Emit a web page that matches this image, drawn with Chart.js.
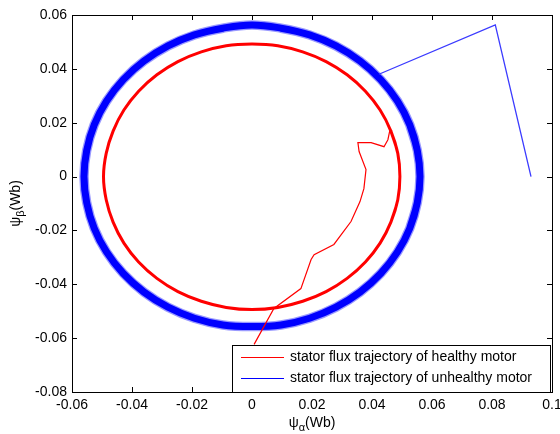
<!DOCTYPE html>
<html>
<head>
<meta charset="utf-8">
<script src="https://cdn.jsdelivr.net/npm/chart.js@4"></script>
<style>
  html, body { margin: 0; padding: 0; background: #fff; }
  #wrap { width: 560px; height: 434px; }
</style>
</head>
<body>
<div id="wrap"><canvas id="flux"></canvas></div>
<script>
// ---- data (psi_alpha, psi_beta in Wb) ----
const xTicks = [-0.06, -0.04, -0.02, 0, 0.02, 0.04, 0.06, 0.08, 0.1];
const xTickLabels = ['-0.06', '-0.04', '-0.02', '0', '0.02', '0.04', '0.06', '0.08', '0.1'];
const yTicks = [-0.08, -0.06, -0.04, -0.02, 0, 0.02, 0.04, 0.06];
const yTickLabels = ['-0.08', '-0.06', '-0.04', '-0.02', '0', '0.02', '0.04', '0.06'];

const seriesNames = ['stator flux trajectory of healthy motor', 'stator flux trajectory of unhealthy motor'];

// healthy motor: start-up transient, then steady circle (a little overlap at the seam)
const redPathX = [0.0007, 0.0073, 0.0163, 0.0197, 0.0207, 0.0273, 0.0330, 0.0360, 0.0373, 0.0380, 0.0357, 0.0353, 0.0397, 0.0440, 0.0453, 0.0460];
const redPathY = [-0.0623, -0.0490, -0.0416, -0.0308, -0.0290, -0.0252, -0.0167, -0.0093, -0.0045, 0.0026, 0.0093, 0.0126, 0.0126, 0.0111, 0.0137, 0.0174];
const redCircleX = [0.0463, 0.0486, 0.0493, 0.0486, 0.0463, 0.0427, 0.0378, 0.0317, 0.0247, 0.0169, 0.0086, 0, -0.0086, -0.0169, -0.0247, -0.0317, -0.0378, -0.0427, -0.0463, -0.0486, -0.0495,
  -0.0486, -0.0463, -0.0427, -0.0378, -0.0317, -0.0247, -0.0169, -0.0086, 0, 0.0086, 0.0169, 0.0247, 0.0317, 0.0378, 0.0427, 0.0463, 0.0486, 0.0493, 0.0486, 0.0463];
const redCircleY = [-0.0169, -0.0086, 0, 0.0086, 0.0169, 0.0247, 0.0317, 0.0378, 0.0427, 0.0463, 0.0486, 0.0492, 0.0486, 0.0463, 0.0427, 0.0378, 0.0317, 0.0247, 0.0169, 0.0086, 0,
  -0.0086, -0.0169, -0.0247, -0.0317, -0.0378, -0.0427, -0.0463, -0.0486, -0.0494, -0.0486, -0.0463, -0.0427, -0.0378, -0.0317, -0.0247, -0.0169, -0.0086, 0, 0.0086, 0.0169];

// unhealthy motor: start-up transient, then steady circle (a little overlap at the seam)
const bluePathX = [0.0930, 0.0811, 0.0423];
const bluePathY = [0, 0.0563, 0.0380];
const blueCircleX = [0.0526, 0.0551, 0.0560, 0.0551, 0.0526, 0.0485, 0.0429, 0.0360, 0.0280, 0.0192, 0.0097, 0, -0.0097, -0.0192, -0.0280, -0.0360, -0.0429, -0.0485, -0.0526, -0.0551, -0.0560,
  -0.0551, -0.0526, -0.0485, -0.0429, -0.0360, -0.0280, -0.0192, -0.0097, 0, 0.0097, 0.0192, 0.0280, 0.0360, 0.0429, 0.0485, 0.0526, 0.0551, 0.0560, 0.0551, 0.0526];
const blueCircleY = [-0.0192, -0.0097, 0, 0.0097, 0.0192, 0.0280, 0.0360, 0.0429, 0.0485, 0.0526, 0.0551, 0.0563, 0.0551, 0.0526, 0.0485, 0.0429, 0.0360, 0.0280, 0.0192, 0.0097, 0,
  -0.0097, -0.0192, -0.0280, -0.0360, -0.0429, -0.0485, -0.0526, -0.0551, -0.0557, -0.0551, -0.0526, -0.0485, -0.0429, -0.0360, -0.0280, -0.0192, -0.0097, 0, 0.0097, 0.0192];

const seriesColors = ['#ff0000', '#0000ff'];
const FONT = 'Arial, "Liberation Sans", sans-serif';

function pts(xs, ys) {
    return xs.map((x, i) => ({ x, y: ys[i] }));
}

function lineSet(data, color, width, tension) {
    return { data, borderColor: color, borderWidth: width, showLine: true, pointRadius: 0, tension: tension || 0, fill: false };
}

// =====================================================================
// FRAME, INWARD TICKS, AXIS TITLES AND LEGEND (matlab look)
// =====================================================================
const matlabFrame = {
    id: 'matlabFrame',
    afterDraw(chart) {
        const { ctx, chartArea: a, scales: { x, y } } = chart;
        ctx.save();
        ctx.strokeStyle = '#000';
        ctx.lineWidth = 1;

        // inward ticks on all four sides
        ctx.beginPath();
        xTicks.forEach(v => {
            const px = Math.round(x.getPixelForValue(v)) + 0.5;
            ctx.moveTo(px, a.bottom); ctx.lineTo(px, a.bottom - 5);
            ctx.moveTo(px, a.top); ctx.lineTo(px, a.top + 5);
        });
        yTicks.forEach(v => {
            const py = Math.round(y.getPixelForValue(v)) + 0.5;
            ctx.moveTo(a.left, py); ctx.lineTo(a.left + 5, py);
            ctx.moveTo(a.right, py); ctx.lineTo(a.right - 5, py);
        });
        ctx.stroke();
        ctx.strokeRect(Math.round(a.left) + 0.5, Math.round(a.top) + 0.5, Math.round(a.right - a.left), Math.round(a.bottom - a.top));

        // legend box in lower right corner
        const lx = 232, ly = 345, lw = 318, lh = 47;
        ctx.fillStyle = '#fff';
        ctx.fillRect(lx, ly, lw, lh);
        ctx.strokeRect(lx + 0.5, ly + 0.5, lw, lh);
        ctx.font = '14px ' + FONT;
        ctx.textBaseline = 'middle';
        seriesNames.forEach((name, i) => {
            const yy = ly + 12 + i * 21;
            ctx.strokeStyle = seriesColors[i];
            ctx.beginPath();
            ctx.moveTo(241, yy + 0.5); ctx.lineTo(284, yy + 0.5);
            ctx.stroke();
            ctx.fillStyle = '#000';
            ctx.fillText(name, 290, yy);
        });

        // axis titles with greek subscripts
        ctx.fillStyle = '#000';
        ctx.textBaseline = 'alphabetic';
        const drawTitle = (sub) => {
            ctx.font = '14px ' + FONT;
            const w1 = ctx.measureText('\u03c8').width;
            ctx.font = '11px ' + FONT;
            const w2 = ctx.measureText(sub).width;
            ctx.font = '14px ' + FONT;
            const w3 = ctx.measureText('(Wb)').width;
            let cx = -(w1 + w2 + w3) / 2;
            ctx.fillText('\u03c8', cx, 0); cx += w1;
            ctx.font = '11px ' + FONT;
            ctx.fillText(sub, cx, 4); cx += w2;
            ctx.font = '14px ' + FONT;
            ctx.fillText('(Wb)', cx, 0);
        };
        ctx.save();
        ctx.translate((a.left + a.right) / 2, 427);
        drawTitle('\u03b1');
        ctx.restore();
        ctx.save();
        ctx.translate(20, (a.top + a.bottom) / 2);
        ctx.rotate(-Math.PI / 2);
        drawTitle('\u03b2');
        ctx.restore();

        ctx.restore();
    }
};

new Chart(document.getElementById('flux'), {
    type: 'scatter',
    data: {
        datasets: [
            lineSet(pts(redPathX, redPathY), seriesColors[0], 1.2),
            lineSet(pts(redCircleX, redCircleY), seriesColors[0], 3, 0.4),
            lineSet(pts(bluePathX, bluePathY), '#3a3aff', 1.3),
            lineSet(pts(blueCircleX, blueCircleY), seriesColors[1], 7, 0.4),
            lineSet(pts(blueCircleX, blueCircleY), '#9a9aff', 9.5, 0.4)
        ]
    },
    options: {
        responsive: true,
        maintainAspectRatio: false,
        animation: false,
        layout: { padding: { top: 15, right: 8, left: 0, bottom: 0 } },
        plugins: { legend: { display: false }, tooltip: { enabled: false } },
        scales: {
            x: {
                type: 'linear', min: -0.06, max: 0.1,
                grid: { display: false, drawTicks: false },
                border: { display: false },
                afterBuildTicks: s => { s.ticks = xTicks.map(v => ({ value: v })); },
                afterFit: s => { s.height = 42; s.paddingLeft = 0; s.paddingRight = 0; },
                ticks: {
                    padding: 5, color: '#000', maxRotation: 0, autoSkip: false,
                    font: { family: FONT, size: 14 },
                    callback: (v, i) => xTickLabels[i]
                }
            },
            y: {
                type: 'linear', min: -0.08, max: 0.06,
                grid: { display: false, drawTicks: false },
                border: { display: false },
                afterBuildTicks: s => { s.ticks = yTicks.map(v => ({ value: v })); },
                afterFit: s => { s.width = 72; s.paddingTop = 0; s.paddingBottom = 0; },
                ticks: {
                    padding: 5, color: '#000', autoSkip: false,
                    font: { family: FONT, size: 14 },
                    callback: (v, i) => yTickLabels[i]
                }
            }
        }
    },
    plugins: [matlabFrame]
});
</script>
</body>
</html>
